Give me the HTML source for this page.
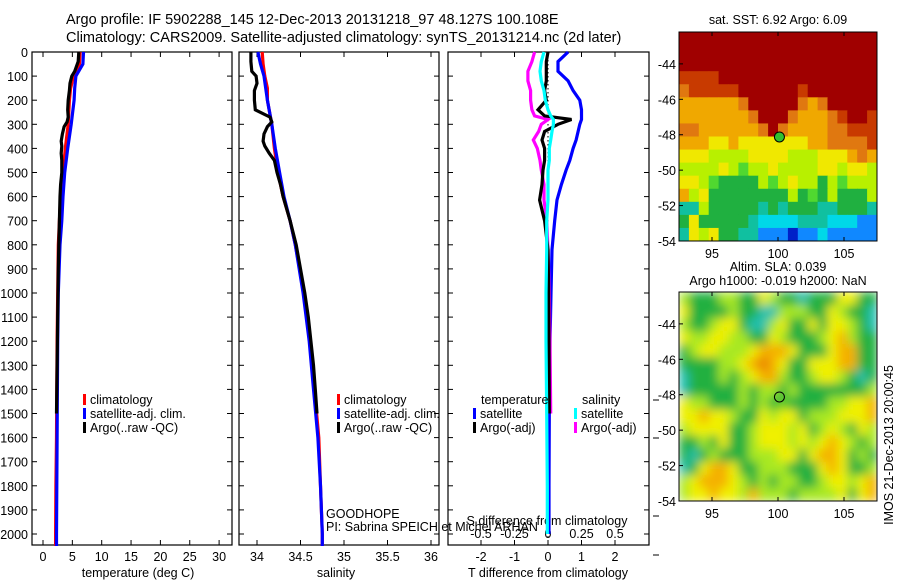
<!DOCTYPE html>
<html><head><meta charset="utf-8">
<style>
body{margin:0;background:#fff;}
svg{display:block;font-family:"Liberation Sans",sans-serif;}
text{fill:#000;}
</style></head>
<body>
<svg id="fig" width="900" height="580" viewBox="0 0 900 580">
<rect width="900" height="580" fill="#fff"/>
<text x="66" y="24" font-size="14.5">Argo profile: IF 5902288_145 12-Dec-2013 20131218_97 48.127S 100.108E</text>
<text x="66" y="42" font-size="14.5">Climatology: CARS2009. Satellite-adjusted climatology: synTS_20131214.nc (2d later)</text>
<g id="p1"></g>
<g id="p2"></g>
<g id="p3"></g>
<g id="m1"></g>
<g id="m2"></g>
</svg>
<script>
// ---- data ----
const depthTicks=[0,100,200,300,400,500,600,700,800,900,1000,1100,1200,1300,1400,1500,1600,1700,1800,1900,2000];
const tempTicks=[0,5,10,15,20,25,30];
const salTicks=[34,34.5,35,35.5,36];
const salTickLabels=["34","34.5","35","35.5","36"];
const tdTicks=[-2,-1,0,1,2];
const sdTicks=[-0.5,-0.25,0,0.25,0.5];
const sdTickLabels=["-0.5","-0.25","0","0.25","0.5"];

const climDepth=[0,50,100,150,200,300,400,500,600,700,800,1000,1200,1400,1600,1800,2000,2050];
const climTemp=[6.3,6.2,5.2,4.7,4.5,4.3,3.8,3.4,3.0,2.8,2.6,2.5,2.4,2.35,2.3,2.2,2.15,2.15];
const satTemp=[6.9,6.8,5.6,5.4,5.3,4.8,4.2,3.7,3.4,3.2,2.9,2.6,2.5,2.45,2.4,2.35,2.3,2.3];
const climSal=[34.06,34.07,34.09,34.12,34.12,34.17,34.2,34.24,34.3,34.38,34.44,34.54,34.61,34.66,34.71,34.73,34.75,34.75];
const satSal=[34.01,34.04,34.08,34.1,34.12,34.17,34.21,34.26,34.31,34.38,34.44,34.53,34.6,34.65,34.7,34.73,34.75,34.75];

const argoDepth=[0,40,80,100,130,160,200,240,270,290,310,340,370,390,420,450,500,550,600,700,800,900,1000,1100,1200,1300,1400,1500];
const argoTemp=[6.1,6.0,5.4,4.9,4.6,4.5,4.3,4.2,4.3,4.1,3.6,3.3,3.1,3.2,3.1,3.2,3.2,3.0,2.9,2.8,2.7,2.6,2.55,2.5,2.45,2.4,2.35,2.3];
const argoSal=[33.93,33.93,33.94,33.99,34.0,33.97,33.97,33.98,34.15,34.17,34.12,34.08,34.07,34.09,34.14,34.2,34.23,34.27,34.3,34.38,34.45,34.5,34.55,34.59,34.62,34.65,34.67,34.69];

const diffDepth=[0,40,80,120,160,200,240,265,280,300,330,365,400,450,490,550,614,700,820,1000,1200,1500,1800,2000];
const tSatDiff=[0.6,0.3,0.3,0.6,0.75,0.95,1.0,1.0,1.0,0.95,0.9,0.84,0.75,0.65,0.54,0.4,0.27,0.2,0.12,0.09,0.06,0.04,0.03,0.03];
const tArgoDiff=[0.0,-0.05,-0.05,-0.05,-0.1,-0.05,-0.3,-0.1,0.7,0.3,-0.1,-0.18,-0.1,-0.1,-0.15,-0.18,-0.25,-0.1,0.0,0.02,0.03,0.04,null,null];
const sSatDiff=[-0.03,-0.05,-0.06,-0.05,-0.03,-0.02,0.0,0.02,0.04,0.04,0.03,0.02,0.01,0.01,0.0,0.0,0.0,-0.01,-0.01,-0.015,-0.015,-0.01,-0.005,-0.005];
const sArgoDiff=[-0.1,-0.12,-0.15,-0.15,-0.13,-0.13,-0.12,-0.1,0.0,-0.05,-0.07,-0.11,-0.08,-0.06,-0.05,-0.03,-0.03,-0.01,0.0,0.01,0.015,0.02,null,null];

// map grids (colour codes per cell)
const sstRows=[
"RRRRRRRRRRRRRRRRRRRR","RRRRRRRRRRRRRRRRRRRR","RRRRRRRRRRRRRRRRRRRR",
"rrrrRRRRRRRRRRRRRRRR","orrrrrRRRRRRrRRRRRRR","OOOOOOoRRRRRoOoRRRRR",
"OOOOOOOoRRRoOOOorRRr","ooOOOOOOoRoOOOOoorrr","OOOyyOyyyyyyyOOoooor",
"yyyllllyyyylllyyyOoO","llllylgllyllllyylyyl","yylgGGGGlglyllGlglll",
"OlyGGGGGGGGlGgGlGGGl","cclGGGGGcGcGGGccGGGc","GyGGGGGcCCCCcccCCCbb",
"cylyGGccbbbBbbCbbbbb"];
const slaRows=[
"lGGGllGGylGGcGGGyyGG","yGGGGlGGcclllGGylGGc","lGGlyyGcclyGGyGyylGc",
"yllyyllGGylGGGlyolGG","GlyylllyoooyGGGyooGG","GGGGllyoOoyGGyyyooGG",
"cGGGlGlyoolGGlyylGcG","cGGGGGlGllGlGGGGGGGl","yllGGGlGlGgGGGGllyyo",
"yyoyylGGylyyGlllyyyo","lyyyyGGlyyylyGlylGyl","GGlGyGGlyyylylyoylGl",
"GcGlGGGlllyyGyooyGlG","cGyooyGGlllGGGyoyGGl","lyoooylGlGllGGlyylyo",
"lyyoyylolllGllllyGyo"];
const latTicks=[-44,-46,-48,-50,-52,-54];
const lonTicks=[95,100,105];
const argoLon=100.108, argoLat=-48.127;

// ---- helpers ----
const NS="http://www.w3.org/2000/svg";
function mk(parent,tag,attrs,txt){const e=document.createElementNS(NS,tag);for(const k in attrs)e.setAttribute(k,attrs[k]);if(txt!==undefined)e.textContent=txt;parent.appendChild(e);return e;}
const yD=d=>52+d*0.2410;
function drawBox(g,x0,x1){
  const r=mk(g,'rect',{x:x0,y:52,width:x1-x0,height:493,fill:'none',stroke:'#000','stroke-width':1.2});
  
  
  depthTicks.forEach(d=>{const y=yD(d);
    mk(g,'line',{x1:x0,x2:x0+5,y1:y,y2:y,stroke:'#000'});
    mk(g,'line',{x1:x1,x2:x1-5,y1:y,y2:y,stroke:'#000'});});
}
function profile(g,xs,ds,xf,color,name){
  let pts=[];
  xs.forEach((v,i)=>{if(v===null)return;pts.push(xf(v).toFixed(1)+','+yD(ds[i]).toFixed(1));});
  const p=mk(g,'polyline',{points:pts.join(' '),fill:'none',stroke:color,'stroke-width':3.2,'stroke-linejoin':'miter'});
  
  
}
function legend(g,x,y,items){
  items.forEach((it,i)=>{const yy=y+i*14;
    mk(g,'rect',{x:x,y:yy-10,width:3,height:11,fill:it[0]});
    const t=mk(g,'text',{x:x+7,y:yy,'font-size':12.5},it[1]);
    
    });
}

// ---- panel 1: temperature ----
const p1=document.getElementById('p1');
const xT=t=>43+t*5.87;
drawBox(p1,32,232);
depthTicks.forEach(d=>{const t=mk(p1,'text',{x:28,y:yD(d)+5,'font-size':12.5,'text-anchor':'end'},String(d));
  
  });
tempTicks.forEach(v=>{const x=xT(v);
  mk(p1,'line',{x1:x,x2:x,y1:52,y2:57,stroke:'#000'});mk(p1,'line',{x1:x,x2:x,y1:545,y2:540,stroke:'#000'});
  const t=mk(p1,'text',{x:x,y:561,'font-size':12.5,'text-anchor':'middle'},String(v));
  
  });
(function(){const t=mk(p1,'text',{x:138,y:577,'font-size':12.5,'text-anchor':'middle'},'temperature (deg C)');
  
  })();
profile(p1,climTemp,climDepth,xT,'#ff0000','climatology-temp-line');
profile(p1,satTemp,climDepth,xT,'#0000ff','satellite-temp-line');
profile(p1,argoTemp,argoDepth,xT,'#000000','argo-temp-line');
legend(p1,83,404,[['#f00','climatology'],['#00f','satellite-adj. clim.'],['#000','Argo(..raw -QC)']]);

// ---- panel 2: salinity ----
const p2=document.getElementById('p2');
const xS=s=>257+(s-34)*87;
drawBox(p2,239,439);
salTicks.forEach((v,i)=>{const x=xS(v);
  mk(p2,'line',{x1:x,x2:x,y1:52,y2:57,stroke:'#000'});mk(p2,'line',{x1:x,x2:x,y1:545,y2:540,stroke:'#000'});
  const t=mk(p2,'text',{x:x,y:561,'font-size':12.5,'text-anchor':'middle'},salTickLabels[i]);
  
  });
(function(){const t=mk(p2,'text',{x:336,y:577,'font-size':12.5,'text-anchor':'middle'},'salinity');
  
  })();
profile(p2,climSal,climDepth,xS,'#ff0000','climatology-salinity-line');
profile(p2,satSal,climDepth,xS,'#0000ff','satellite-salinity-line');
profile(p2,argoSal,argoDepth,xS,'#000000','argo-salinity-line');
legend(p2,337,404,[['#f00','climatology'],['#00f','satellite-adj. clim.'],['#000','Argo(..raw -QC)']]);
(function(){let t=mk(p2,'text',{x:326,y:518,'font-size':12.5},'GOODHOPE');
  
  
  t=mk(p2,'text',{x:326,y:531,'font-size':12.5},'PI: Sabrina SPEICH et Michel ARHAN');
  
  })();

// ---- panel 3: differences ----
const p3=document.getElementById('p3');
const xTd=v=>548+v*33.5, xSd=v=>548+v*134;
drawBox(p3,448,649);
[400,438,516,555].forEach(y=>mk(p3,'line',{x1:653,x2:659,y1:y,y2:y,stroke:'#000'}));
mk(p3,'line',{x1:548,x2:548,y1:52,y2:545,stroke:'#000','stroke-dasharray':'1.5,2.5'});
tdTicks.forEach(v=>{const x=xTd(v);
  mk(p3,'line',{x1:x,x2:x,y1:52,y2:57,stroke:'#000'});mk(p3,'line',{x1:x,x2:x,y1:545,y2:540,stroke:'#000'});
  const t=mk(p3,'text',{x:x,y:561,'font-size':12.5,'text-anchor':'middle'},String(v));
  
  });
sdTicks.forEach((v,i)=>{const t=mk(p3,'text',{x:xSd(v),y:538,'font-size':12.5,'text-anchor':'middle'},sdTickLabels[i]);
  
  });
(function(){let t=mk(p3,'text',{x:547,y:525,'font-size':12.5,'text-anchor':'middle'},'S difference from climatology');
  
  
  t=mk(p3,'text',{x:548,y:577,'font-size':12.5,'text-anchor':'middle'},'T difference from climatology');
  
  })();
profile(p3,tSatDiff,diffDepth,xTd,'#0000ff','t-satellite-diff-line');
profile(p3,sArgoDiff,diffDepth,xSd,'#ff00ff','s-argo-diff-line');
profile(p3,tArgoDiff,diffDepth,xTd,'#000000','t-argo-diff-line');
profile(p3,sSatDiff,diffDepth,xSd,'#00ffff','s-satellite-diff-line');
(function(){let t=mk(p3,'text',{x:481,y:404,'font-size':12.5},'temperature');
  
  
  t=mk(p3,'text',{x:582,y:404,'font-size':12.5},'salinity');
  
  })();
legend(p3,473,418,[['#00f','satellite'],['#000','Argo(-adj)']]);
legend(p3,574,418,[['#0ff','satellite'],['#f0f','Argo(-adj)']]);

// ---- maps ----
const pal={R:'#a00000',r:'#c83a00',o:'#e07810',O:'#f0a800',y:'#f0e800',l:'#b8f000',g:'#50d830',G:'#20b040',c:'#10c0a0',C:'#00d8e8',b:'#1088ff',B:'#0020c8'};
const pal2={G:'#20b040',g:'#60d020',l:'#a8e820',y:'#f0f000',o:'#f4b000',O:'#e88000',c:'#20c0b0'};
function drawMap(g,rows,palette,top,id,blur){
  const x0=679,x1=877,y1=top+209,lonA=92.5,lonB=107.5,latA=-42.2,latB=-54;
  const lx=lon=>x0+(lon-lonA)/(lonB-lonA)*(x1-x0);
  const ly=lat=>top+(lat-latA)/(latB-latA)*(y1-top);
  const nr=rows.length,nc=rows[0].length,cw=(x1-x0)/nc,ch=(y1-top)/nr;
  mk(g,'clipPath',{id:'c'+id}).appendChild(document.createElementNS(NS,'rect'));
  const cr=g.lastChild.firstChild;cr.setAttribute('x',x0);cr.setAttribute('y',top);cr.setAttribute('width',x1-x0);cr.setAttribute('height',y1-top);
  if(blur){const f=mk(g,'filter',{id:'f'+id,x:'-0.1',y:'-0.1',width:'1.2',height:'1.2'});mk(f,'feGaussianBlur',{stdDeviation:5});}
  const cg=mk(g,'g',{'clip-path':'url(#c'+id+')'});
  const inner=mk(cg,'g',blur?{filter:'url(#f'+id+')'}:{});
  rows.forEach((row,ri)=>{[...row].forEach((ch0,ci)=>{
    const c=mk(inner,'rect',{x:(x0+ci*cw).toFixed(2),y:(top+ri*ch).toFixed(2),width:(cw+0.6).toFixed(2),height:(ch+0.6).toFixed(2),fill:palette[ch0]});
    
    
  });});
  mk(g,'rect',{x:x0,y:top,width:x1-x0,height:y1-top,fill:'none',stroke:'#000'});
  latTicks.forEach(v=>{const y=ly(v);mk(g,'line',{x1:x0,x2:x0+4,y1:y,y2:y,stroke:'#000'});
    const t=mk(g,'text',{x:x0-3,y:y+5,'font-size':12.5,'text-anchor':'end'},String(v));
    
    });
  lonTicks.forEach(v=>{const x=lx(v);mk(g,'line',{x1:x,x2:x,y1:y1,y2:y1-4,stroke:'#000'});mk(g,'line',{x1:x,x2:x,y1:top,y2:top+4,stroke:'#000'});
    const t=mk(g,'text',{x:x,y:y1+17,'font-size':12.5,'text-anchor':'middle'},String(v));
    
    });
  const m=mk(g,'ellipse',{cx:lx(argoLon),cy:ly(argoLat),rx:5,ry:5,fill:blur?'none':'#30c030',stroke:'#000','stroke-width':1});
  
  
}
const m1=document.getElementById('m1'),m2=document.getElementById('m2');
drawMap(m1,sstRows,pal,32,'a',false);
drawMap(m2,slaRows,pal2,292,'b',true);
(function(){let t=mk(m1,'text',{x:778,y:24,'font-size':12.5,'text-anchor':'middle'},'sat. SST: 6.92 Argo: 6.09');
  
  
  t=mk(m2,'text',{x:778,y:271,'font-size':12.5,'text-anchor':'middle'},'Altim. SLA: 0.039');
  
  
  t=mk(m2,'text',{x:778,y:285,'font-size':12.5,'text-anchor':'middle'},'Argo h1000: -0.019 h2000: NaN');
  
  
  t=mk(m2,'text',{x:0,y:0,'font-size':12.5,'text-anchor':'middle',transform:'translate(893,445) rotate(-90)'},'IMOS 21-Dec-2013 20:00:45');
  
  })();
</script>
</body></html>
